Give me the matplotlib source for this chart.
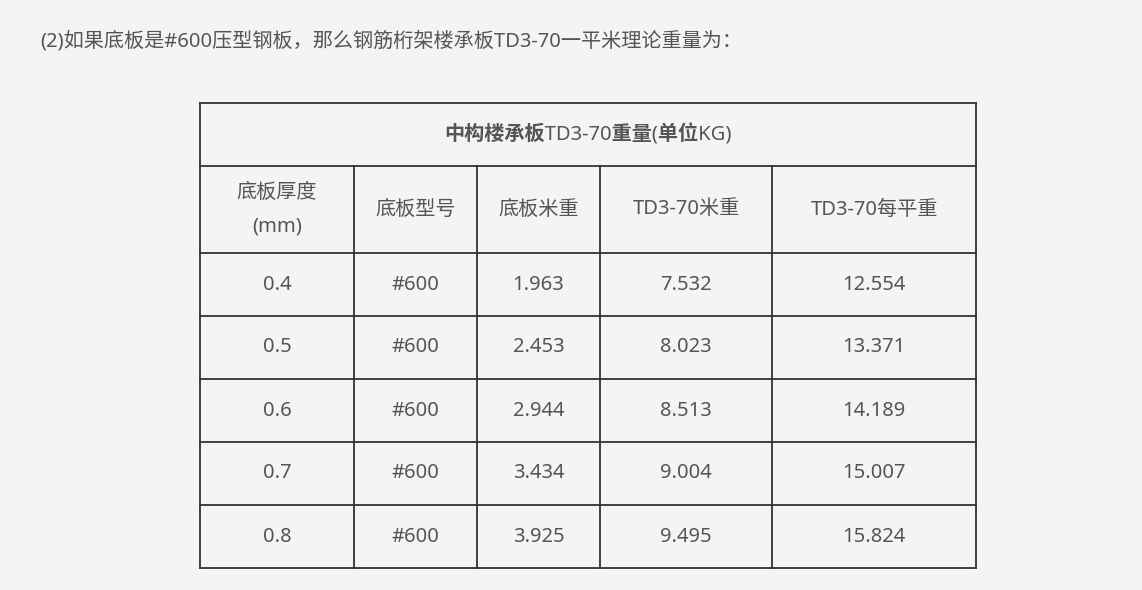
import matplotlib
matplotlib.use("Agg")
import matplotlib.pyplot as plt

plt.rcParams["font.family"] = ["Noto Sans", "Noto Sans CJK SC"]

intro = "(2)如果底板是#600压型钢板，那么钢筋桁架楼承板TD3-70一平米理论重量为："
table_title = "中构楼承板TD3-70重量(单位KG)"
headers = ["底板厚度\n(mm)", "底板型号", "底板米重", "TD3-70米重", "TD3-70每平重"]
thickness = ["0.4", "0.5", "0.6", "0.7", "0.8"]
model = ["#600"] * 5
base_weight = ["1.963", "2.453", "2.944", "3.434", "3.925"]
td_weight = ["7.532", "8.023", "8.513", "9.004", "9.495"]
per_sqm = ["12.554", "13.371", "14.189", "15.007", "15.824"]

col_x = [200, 354, 477, 600, 772, 976]
row_y = [103, 166, 253, 316, 379, 442, 505, 568]

bg = "#f4f4f4"
tc = "#555555"
lc = "#333333"
fs = 14.5

fig = plt.figure(figsize=(11.42, 5.90), dpi=100, facecolor=bg)
ax = fig.add_axes([0, 0, 1, 1])
ax.set_xlim(0, 1142)
ax.set_ylim(590, 0)
ax.axis("off")

ax.text(40, 41, intro, fontsize=fs, color=tc, va="center", ha="left")

lw = 1.3
for y in row_y:
    ax.plot([col_x[0], col_x[-1]], [y, y], color=lc, lw=lw)
ax.plot([col_x[0], col_x[0]], [row_y[0], row_y[-1]], color=lc, lw=lw)
ax.plot([col_x[-1], col_x[-1]], [row_y[0], row_y[-1]], color=lc, lw=lw)
for x in col_x[1:-1]:
    ax.plot([x, x], [row_y[1], row_y[-1]], color=lc, lw=lw)

ax.text((col_x[0] + col_x[-1]) / 2, (row_y[0] + row_y[1]) / 2, table_title,
        fontsize=fs, color=tc, weight="bold", ha="center", va="center")

centers = [(col_x[i] + col_x[i + 1]) / 2 for i in range(5)]
hy = (row_y[1] + row_y[2]) / 2
for i, h in enumerate(headers):
    ax.text(centers[i], hy, h, fontsize=fs, color=tc, ha="center", va="center",
            linespacing=1.9)

cols = [thickness, model, base_weight, td_weight, per_sqm]
for r in range(5):
    y = (row_y[r + 2] + row_y[r + 3]) / 2
    for c in range(5):
        ax.text(centers[c], y, cols[c][r], fontsize=fs, color=tc,
                ha="center", va="center")

fig.savefig("out.png", dpi=100, facecolor=bg)
